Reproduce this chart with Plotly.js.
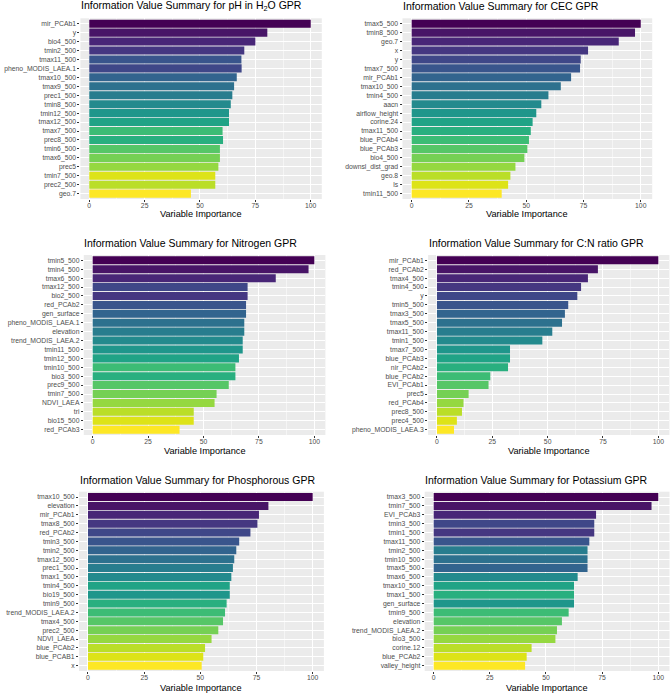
<!DOCTYPE html>
<html>
<head>
<meta charset="utf-8">
<script src="https://cdn.plot.ly/plotly-3.0.1.min.js"></script>
<style>html,body{margin:0;padding:0;background:#fff;}#chart{width:671px;height:694px;}</style>
</head>
<body>
<div id="chart"></div>
<script>
// viridis palette (20 levels)
const viridis20 = ["#440154","#481567","#482677","#453781","#3F4788","#39558C","#32648E","#2D718E","#287D8E","#238A8D",
                   "#1F968B","#20A386","#29AF7F","#3CBC75","#56C667","#75D054","#95D840","#BADE28","#DDE318","#FDE725"];

// Panel 1: pH in H2O
const phLabels = ["mir_PCAb1","y","bio4_500","tmin2_500","tmax11_500","pheno_MODIS_LAEA.1","tmax10_500","tmax9_500","prec1_500","tmin8_500",
                  "tmin12_500","tmax12_500","tmax7_500","prec8_500","tmin6_500","tmax6_500","prec5","tmin7_500","prec2_500","geo.7"];
const phValues = [100,80.4,75.0,70.0,68.7,68.8,66.6,65.4,64.6,63.9,63.1,63.1,60.2,60.4,59.0,59.0,58.3,56.9,56.9,45.9];
const phColour = [1,2,3,4,6,5,7,8,9,10,11,12,14,13,15,16,17,19,18,20];

// Panel 2: CEC
const cecLabels = ["tmax5_500","tmin8_500","geo.7","x","y","tmax7_500","mir_PCAb1","tmax10_500","tmin4_500","aacn",
                   "airflow_height","corine.24","tmax11_500","blue_PCAb4","blue_PCAb3","bio4_500","downsl_dist_grad","geo.8","ls","tmin11_500"];
const cecValues = [100,97.5,90.4,77.0,73.8,73.5,69.6,65.1,59.7,56.6,54.4,52.8,52.0,51.2,50.5,49.2,45.3,43.1,42.1,39.3];
const cecColour = [1,2,3,4,5,6,7,8,9,10,11,12,13,14,15,16,17,18,19,20];

// Panel 3: Nitrogen
const nLabels = ["tmin5_500","tmin4_500","tmax6_500","tmax12_500","bio2_500","red_PCAb2","gen_surface","pheno_MODIS_LAEA.1","elevation","trend_MODIS_LAEA.2",
                 "tmin11_500","tmin12_500","tmin10_500","bio3_500","prec9_500","tmin7_500","NDVI_LAEA","tri","bio15_500","red_PCAb3"];
const nValues = [100,97.4,82.6,69.9,69.9,69.2,69.2,68.4,68.4,67.7,67.7,66.0,64.4,64.4,61.4,55.9,55.0,45.6,45.6,39.2];
const nColour = [1,2,3,5,4,6,7,8,9,10,11,12,14,13,15,16,17,18,19,20];

// Panel 4: C:N ratio
const cnLabels = ["mir_PCAb1","red_PCAb2","tmax4_500","tmin4_500","y","tmin5_500","tmax3_500","tmax5_500","tmax11_500","tmin1_500",
                  "tmax7_500","blue_PCAb3","nir_PCAb2","blue_PCAb2","EVI_PCAb1","prec5","red_PCAb4","prec8_500","prec4_500","pheno_MODIS_LAEA.3"];
const cnValues = [100,72.7,68.2,65.1,63.4,59.3,57.8,56.5,52.1,47.6,33.0,33.0,32.1,24.1,23.3,14.3,12.0,11.3,9.0,7.7];
const cnColour = [1,2,3,4,5,6,7,8,9,10,11,12,13,14,15,16,17,18,19,20];

// Panel 5: Phosphorous
const pLabels = ["tmax10_500","elevation","mir_PCAb1","tmax8_500","red_PCAb2","tmin3_500","tmin2_500","tmax12_500","prec1_500","tmax1_500",
                 "tmin4_500","bio19_500","tmin9_500","trend_MODIS_LAEA.2","tmax4_500","prec2_500","NDVI_LAEA","blue_PCAb2","blue_PCAB1","x"];
const pValues = [100,80.3,76.1,75.4,72.3,67.3,66.0,65.1,64.5,63.8,63.1,63.1,61.7,61.0,60.1,58.0,55.0,52.1,51.3,50.6];
const pColour = [1,2,3,4,5,6,7,8,9,10,12,11,13,14,15,16,17,18,19,20];

// Panel 6: Potassium
const kLabels = ["tmax3_500","tmin7_500","EVI_PCAb3","tmin3_500","tmin1_500","tmax11_500","tmin2_500","tmin10_500","tmax5_500","tmax6_500",
                 "tmax10_500","tmax1_500","gen_surface","tmin9_500","elevation","trend_MODIS_LAEA.2","bio3_500","corine.12","blue_PCAb2","valley_height"];
const kValues = [100,97.0,72.3,71.5,71.5,69.3,68.5,68.5,68.5,64.1,62.5,62.5,62.5,60.1,57.1,54.9,54.2,43.6,41.4,40.7];
const kColour = [1,2,3,5,4,6,9,8,7,10,12,13,11,14,15,16,17,18,19,20];

const panelTitles = ["Information Value Summary for pH in H<sub>2</sub>O GPR","Information Value Summary for CEC GPR",
                     "Information Value Summary for Nitrogen GPR","Information Value Summary for C:N ratio GPR",
                     "Information Value Summary for Phosphorous GPR","Information Value Summary for Potassium GPR"];
const xAxisTitle = "Variable Importance";
const xTicks = [0, 25, 50, 75, 100];

const panels = [
  {labels: phLabels, values: phValues, colour: phColour},
  {labels: cecLabels, values: cecValues, colour: cecColour},
  {labels: nLabels, values: nValues, colour: nColour},
  {labels: cnLabels, values: cnValues, colour: cnColour},
  {labels: pLabels, values: pValues, colour: pColour},
  {labels: kLabels, values: kValues, colour: kColour}
];

// layout geometry (pixels)
const W = 671, H = 694;
const geom = [
  {x0: 80.4, x1: 321.8, y0: 18.3, y1: 199, ty: 6.5, tx: 79},
  {x0: 402.5, x1: 652.2, y0: 18.3, y1: 199, ty: 6.5, tx: 400.7},
  {x0: 83.8, x1: 325.4, y0: 255, y1: 435, ty: 242.7, tx: 82.3},
  {x0: 428.1, x1: 669.4, y0: 255, y1: 435, ty: 243, tx: 426.7},
  {x0: 79.0, x1: 323.9, y0: 491.7, y1: 671, ty: 480, tx: 77.7},
  {x0: 424.7, x1: 669.5, y0: 491.7, y1: 671, ty: 480, tx: 423.3}
];
const axTitleY = [214, 214, 451, 451, 688, 688];

const FONT = "Liberation Sans, Arial, sans-serif";
const traces = [];
const layout = {
  width: W, height: H,
  margin: {l: 0, r: 0, t: 0, b: 0},
  paper_bgcolor: "#FFFFFF",
  plot_bgcolor: "#EBEBEB",
  showlegend: false,
  font: {family: FONT},
  annotations: []
};

panels.forEach((p, i) => {
  const k = i === 0 ? "" : String(i + 1);
  const g = geom[i];
  traces.push({
    type: "bar", orientation: "h",
    x: p.values, y: p.labels,
    xaxis: "x" + k, yaxis: "y" + k,
    width: 0.9,
    marker: {color: p.colour.map(c => viridis20[c - 1]), line: {width: 0}},
    hoverinfo: "x+y"
  });
  layout["xaxis" + k] = {
    domain: [g.x0 / W, g.x1 / W],
    anchor: "y" + k,
    range: [-4, 105],
    tickmode: "array", tickvals: xTicks, ticktext: xTicks.map(String),
    ticks: "outside", ticklen: 2, tickwidth: 1, tickcolor: "#333333",
    ticklabelstandoff: -2,
    tickfont: {size: 6.8, color: "#4D4D4D", family: FONT},
    showgrid: true, gridcolor: "#FFFFFF", gridwidth: 1,
    minor: {tickvals: [12.5, 37.5, 62.5, 87.5], showgrid: true, gridcolor: "#FFFFFF", gridwidth: 0.5, ticks: ""},
    zeroline: false, showline: false, fixedrange: true
  };
  layout["yaxis" + k] = {
    domain: [1 - g.y1 / H, 1 - g.y0 / H],
    anchor: "x" + k,
    type: "category",
    categoryorder: "array", categoryarray: p.labels,
    tickmode: "array", tickvals: p.labels, ticktext: p.labels,
    range: [p.labels.length - 0.4, -0.6],
    ticks: "outside", ticklen: 2, tickwidth: 1, tickcolor: "#333333",
    tickfont: {size: 6.8, color: "#4D4D4D", family: FONT},
    showgrid: true, gridcolor: "#FFFFFF", gridwidth: 1,
    zeroline: false, showline: false, fixedrange: true
  };
  layout.annotations.push({
    text: panelTitles[i], xref: "paper", yref: "paper",
    x: g.tx / W, y: 1 - g.ty / H, xanchor: "left", yanchor: "middle",
    showarrow: false, font: {size: 10.5, color: "#000000", family: FONT}
  });
  layout.annotations.push({
    text: xAxisTitle, xref: "paper", yref: "paper",
    x: (g.x0 + g.x1) / 2 / W, y: 1 - axTitleY[i] / H, xanchor: "center", yanchor: "middle",
    showarrow: false, font: {size: 9.2, color: "#000000", family: FONT}
  });
});

Plotly.newPlot("chart", traces, layout, {displayModeBar: false, staticPlot: true});
</script>
</body>
</html>
